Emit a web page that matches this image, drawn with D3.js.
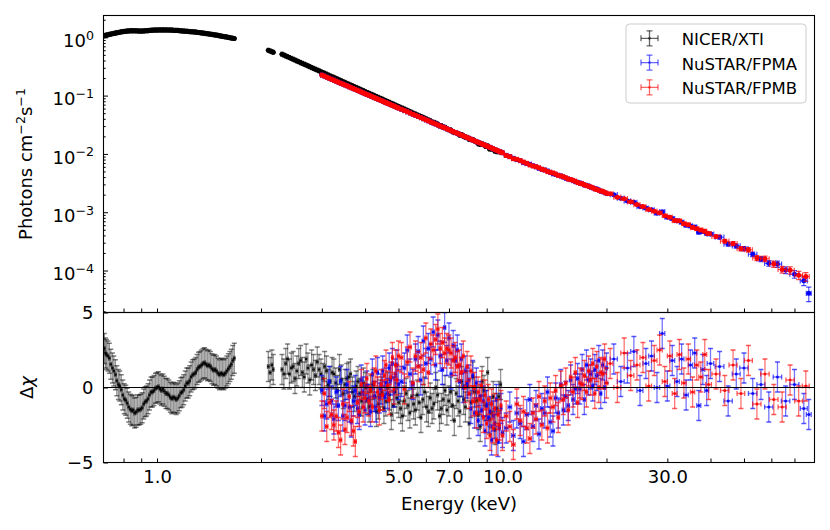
<!DOCTYPE html>
<html><head><meta charset="utf-8">
<script src="https://cdn.jsdelivr.net/npm/d3@7/dist/d3.min.js"></script>
<style>
html,body{margin:0;padding:0;background:#fff;}
text{font-family:"DejaVu Sans",sans-serif;fill:#000;}
</style></head><body>
<svg id="chart" width="830" height="530"></svg>
<script>
// ---------------- DATA ----------------
// NICER/XTI : energies (keV), flux (photons cm^-2 s^-1), relative flux error, residual (delta chi)
const nicerE = [0.704,0.709,0.714,0.721,0.728,0.735,0.743,0.750,0.758,0.765,0.773,0.780,0.788,0.796,0.804,0.812,0.820,0.828,0.837,0.845,0.853,0.861,0.870,0.879,0.888,0.897,0.906,0.915,0.924,0.933,0.942,0.951,0.961,0.970,0.980,0.990,1.000,1.010,1.020,1.030,1.040,1.050,1.061,1.071,1.082,1.093,1.104,1.115,1.126,1.137,1.149,1.160,1.172,1.183,1.195,1.207,1.219,1.231,1.243,1.255,1.268,1.281,1.294,1.306,1.319,1.332,1.346,1.359,1.373,1.386,1.400,1.414,1.428,1.442,1.457,1.471,1.486,1.501,1.516,1.531,1.546,1.561,1.577,1.593,1.609,1.625,1.641,1.657,1.674,
 2.100,2.125,2.150,2.170,
 2.300,2.329,2.358,2.387,2.417,2.447,2.477,2.508,2.540,2.571,2.603,2.635,2.668,2.701,2.734,2.768,2.803,2.838,2.873,2.909,2.945,2.982,3.019,3.056,3.094,3.132,3.171,3.211,3.251,3.291,3.332,3.373,3.415,3.457,3.500,3.544,3.588,3.633,3.678,3.724,3.770,3.817,3.864,3.912,3.960,4.010,4.060,4.110,4.161,4.213,4.265,4.318,4.372,4.426,4.481,4.537,4.593,4.650,4.708,4.767,4.826,4.886,4.946,5.008,5.070,5.133,5.196,5.261,5.327,5.393,5.460,5.528,5.596,5.666,5.736,5.807,5.879,5.953,6.027,6.102,6.177,6.254,6.331,6.410,6.490,6.571,6.652,6.735,6.819,6.904,6.989,7.076,7.164,7.253,7.342,7.434,7.526,7.620,7.715,7.811,7.908,8.006,8.105,8.206,8.308,8.411,8.515,8.621,8.728,8.837,8.947,9.058,9.170,9.284,9.400,9.517,9.635,9.755,9.875];
const nicerFlux = [1.06,1.075,1.09,1.105,1.12,1.135,1.15,1.165,1.18,1.195,1.21,1.225,1.24,1.25,1.26,1.27,1.28,1.285,1.29,1.29,1.29,1.29,1.29,1.285,1.28,1.28,1.28,1.285,1.29,1.295,1.30,1.31,1.32,1.325,1.33,1.33,1.33,1.335,1.34,1.34,1.34,1.34,1.34,1.335,1.33,1.33,1.33,1.32,1.31,1.31,1.31,1.30,1.29,1.285,1.28,1.275,1.27,1.26,1.25,1.245,1.24,1.235,1.23,1.22,1.21,1.20,1.19,1.18,1.17,1.16,1.15,1.14,1.13,1.12,1.11,1.10,1.09,1.075,1.06,1.05,1.04,1.03,1.02,1.008,0.996,0.985,0.973,0.963,0.953,
 0.600,0.583,0.566,0.552,
 0.513,0.496,0.480,0.465,0.450,0.435,0.421,0.407,0.394,0.381,0.369,0.357,0.346,0.335,0.324,0.313,0.303,0.293,0.284,0.275,
 0.266,0.257,0.249,0.241,0.233,0.225,0.218,0.211,0.205,0.198,0.191,0.185,0.179,0.173,0.168,0.162,0.157,0.152,0.147,0.142,
 0.138,0.1335,0.129,0.1248,0.121,0.117,0.113,0.1094,0.106,0.1026,0.0993,0.0961,0.0931,0.0901,0.0871,0.0843,0.0817,0.0791,0.0764,0.0739,
 0.0716,0.0693,0.0670,0.0648,0.0628,0.0608,0.0587,0.0568,0.0551,0.0533,0.0515,0.0498,0.0483,0.0467,0.0452,0.0437,0.0424,0.0410,0.0396,0.0383,
 0.0372,0.0350,0.0348,0.0337,0.0326,0.0303,0.0305,0.0290,0.0286,0.0269,0.0260,0.0258,0.0242,0.0232,0.0231,0.0222,0.0209,0.0215,0.0201,0.0194,
 0.0193,0.0178,0.0175,0.0176,0.0167,0.0161,0.0149,0.0145,0.0150,0.0143,0.0134,0.0137,0.0122,0.0122,0.0120,0.0111,0.0109,0.0109,0.0108];
const nicerRelErr = [0.005,0.005,0.005,0.005,0.005,0.005,0.005,0.005,0.005,0.005,0.005,0.005,0.005,0.005,0.005,0.005,0.005,0.005,0.005,0.005,0.005,0.005,0.005,0.005,0.005,0.005,0.005,0.005,0.005,0.005,0.005,0.005,0.005,0.005,0.005,0.005,0.005,0.005,0.005,0.005,0.005,0.005,0.005,0.005,0.005,0.005,0.005,0.005,0.005,0.005,0.005,0.005,0.005,0.005,0.005,0.005,0.005,0.005,0.005,0.005,0.005,0.005,0.005,0.005,0.005,0.005,0.005,0.005,0.005,0.005,0.005,0.005,0.005,0.005,0.005,0.005,0.005,0.005,0.005,0.005,0.005,0.005,0.005,0.005,0.005,0.005,0.005,0.005,0.005,
 0.01,0.01,0.01,0.01,
 0.006,0.006,0.006,0.006,0.006,0.006,0.006,0.006,0.006,0.006,0.006,0.006,0.006,0.006,0.006,0.006,0.006,0.006,0.006,0.006,0.006,0.006,0.006,0.006,0.006,0.006,0.006,0.006,0.006,0.006,0.006,0.006,0.006,0.006,0.006,0.006,0.006,0.006,0.006,0.006,
 0.01,0.01,0.01,0.01,0.01,0.01,0.01,0.01,0.01,0.01,0.01,0.01,0.01,0.01,0.01,0.01,0.01,0.01,0.01,0.01,0.01,0.01,0.01,0.01,0.01,0.01,0.01,0.01,0.01,0.01,0.01,0.01,0.01,0.01,0.01,0.01,0.01,0.01,0.01,0.01,
 0.02,0.02,0.02,0.02,0.02,0.02,0.02,0.02,0.02,0.02,0.02,0.02,0.02,0.02,0.02,0.02,0.02,0.02,0.02,0.02,0.02,0.02,0.02,0.02,0.02,0.02,0.02,0.02,0.02,0.02,0.02,0.02,0.02,0.02,0.02,0.02,0.02,0.02,0.02];
const nicerRes = [2.6,2.3,2.2,2.1,1.95,1.55,1.3,1.1,0.85,0.45,0.2,0.1,-0.15,-0.5,-0.75,-0.85,-1.05,-1.3,-1.45,-1.55,-1.5,-1.7,-1.65,-1.5,-1.5,-1.45,-1.35,-1.1,-0.95,-0.9,-0.75,-0.5,-0.3,-0.3,-0.2,-0.05,0.0,0.05,-0.1,-0.2,-0.1,-0.25,-0.4,-0.4,-0.5,-0.65,-0.75,-0.65,-0.7,-0.8,-0.7,-0.55,-0.35,-0.3,-0.15,0.1,0.3,0.3,0.45,0.7,0.85,0.9,1.0,1.2,1.35,1.4,1.5,1.6,1.65,1.55,1.45,1.5,1.4,1.25,1.15,1.2,1.1,0.95,0.85,0.95,0.9,0.85,0.95,1.1,1.25,1.4,1.55,1.8,1.95,
 1.4,1.0,1.5,1.2,
 1.2,0.9,1.6,1.9,0.9,1.3,1.4,0.6,1.1,1.6,1.8,1.0,0.7,1.9,1.3,0.5,1.5,1.2,0.8,1.7,
 1.2,0.9,0.6,1.4,1.1,0.2,0.4,1.0,0.9,0.3,-0.2,1.2,0.5,-0.4,0.2,0.6,0.7,0.9,-0.3,-0.6,
 0.1,0.4,-0.4,-0.9,0.3,0.0,-0.8,-1.3,-0.2,0.2,-0.6,-1.6,-1.1,-0.5,-0.3,-1.4,-0.9,0.0,-0.5,-1.8,
 -1.2,-0.3,-0.7,-1.0,-1.4,-1.9,-0.9,-0.4,-1.2,-1.7,-0.6,-1.1,-1.5,-0.5,-1.0,-2.0,-0.8,-0.3,-1.3,-1.6,
 -0.7,-1.4,-1.1,0.0,-0.5,-1.9,-1.4,-0.8,-0.2,-1.5,-0.9,-0.3,-1.2,-2.2,-0.4,-0.9,-1.6,0.4,-0.8,-1.3,
 0.1,-2.4,-1.0,0.7,-0.3,-0.9,-1.8,-2.6,0.4,-0.2,-1.2,1.0,-2.1,-1.7,-0.6,-2.8,-1.4,-0.6,0.2];

// NuSTAR common low-energy bins (3-20 keV)
const nuE = [3.00,3.05,3.10,3.15,3.20,3.25,3.30,3.35,3.40,3.45,3.50,3.55,3.60,3.65,3.70,3.75,3.80,3.85,3.90,3.95,4.00,4.05,4.10,4.15,4.20,4.25,4.30,4.35,4.40,4.45,4.50,4.55,4.60,4.65,4.70,4.75,4.80,4.85,4.90,4.95,5.00,
 5.1,5.2,5.3,5.4,5.5,5.6,5.7,5.8,5.9,6.0,6.1,6.2,6.3,6.4,6.5,6.6,6.7,6.8,6.9,7.0,7.1,7.2,7.3,7.4,7.5,7.6,7.7,7.8,7.9,8.0,8.1,8.2,8.3,8.4,8.5,8.6,8.7,8.8,8.9,9.0,9.1,9.2,9.3,9.4,9.5,9.6,9.7,9.8,9.9,10.0,
 10.25,10.5,10.75,11.0,11.25,11.5,11.75,12.0,12.25,12.5,12.75,13.0,13.25,13.5,13.75,14.0,14.25,14.5,14.75,15.0,15.25,15.5,15.75,16.0,16.25,16.5,16.75,17.0,17.25,17.5,17.75,18.0,18.25,18.5,18.75,19.0,19.25,19.5,19.75,20.0];
const nuFlux3to10 = [0.2254,0.2163,0.2070,0.1991,0.1914,0.1837,0.1767,0.1702,0.1637,0.1578,0.1521,0.1469,0.1416,0.1368,0.1321,0.1276,0.1233,0.1194,0.1153,0.1117,0.1081,0.1047,0.1016,0.0986,0.0955,0.0927,0.0900,0.0873,0.0849,0.0824,0.0802,0.0780,0.0757,0.0736,0.0718,0.0698,0.0679,0.0662,0.0646,0.0628,0.0612,
 0.0582,0.0554,0.0528,0.0504,0.0480,0.0459,0.0439,0.0420,0.0402,0.0385,0.0369,0.0354,0.0340,0.0327,0.0314,0.0302,0.0290,0.0280,0.0270,0.0260,0.0250,0.0242,0.0233,0.0226,0.0218,0.0211,0.0204,0.0197,0.0191,0.0185,0.0179,0.0174,0.0168,0.0163,0.0158,0.0154,0.0149,0.0145,0.0141,0.0137,0.0133,0.0129,0.0126,0.0123,0.0119,0.0116,0.0113,0.0110,0.0107,0.0105];
const fpmaFlux10to20 = [0.00947,0.00899,0.00839,0.00799,0.00767,0.00709,0.00684,0.00666,0.00627,0.00601,0.00565,0.00545,0.00532,0.00511,0.00482,0.00455,0.00447,0.00430,0.00420,0.00400,0.00383,0.00372,0.00362,0.00349,0.00333,0.00326,0.00318,0.00308,0.00293,0.00289,0.00281,0.00268,0.00262,0.00253,0.00249,0.00241,0.00229,0.00225,0.00217,0.00211];
const fpmbFlux10to20 = [0.00940,0.00898,0.00827,0.00810,0.00771,0.00723,0.00689,0.00647,0.00623,0.00604,0.00581,0.00546,0.00528,0.00498,0.00486,0.00471,0.00452,0.00428,0.00419,0.00405,0.00390,0.00370,0.00364,0.00352,0.00341,0.00323,0.00313,0.00309,0.00295,0.00286,0.00278,0.00272,0.00263,0.00251,0.00246,0.00238,0.00230,0.00228,0.00220,0.00212];
const nuRelErrLo = [0.008,0.008,0.008,0.008,0.008,0.008,0.008,0.008,0.008,0.008,0.008,0.008,0.008,0.008,0.008,0.008,0.008,0.008,0.008,0.008,0.008,0.008,0.008,0.008,0.008,0.008,0.008,0.008,0.008,0.008,0.008,0.008,0.008,0.008,0.008,0.008,0.008,0.008,0.008,0.008,0.008,
 0.01,0.01,0.01,0.01,0.01,0.01,0.01,0.01,0.01,0.01,0.01,0.01,0.01,0.01,0.01,0.01,0.01,0.01,0.01,0.01,0.01,0.01,0.01,0.01,0.01,0.01,0.01,0.01,0.01,0.01,0.01,0.01,0.01,0.01,0.01,0.01,0.01,0.01,0.01,0.01,0.01,0.01,0.01,0.01,0.01,0.01,0.01,0.01,0.01,0.01,
 0.02,0.02,0.02,0.02,0.02,0.02,0.02,0.02,0.02,0.02,0.02,0.02,0.02,0.02,0.02,0.02,0.02,0.02,0.02,0.02,0.02,0.02,0.02,0.02,0.02,0.02,0.02,0.02,0.02,0.02,0.02,0.02,0.02,0.02,0.02,0.02,0.02,0.02,0.02,0.02];
// NuSTAR high-energy bins (>20 keV)
const fpmaEHi = [21,22,23,24,25,26,27,28,29,30,31,32,33,34,35,36,37,38,39,40,42.5,45,47.5,50,53,56,59,62.5,66,70,74.5,77];
const fpmaFluxHi = [0.00200,0.00174,0.00156,0.00148,0.00125,0.00118,0.00110,0.000961,0.00102,0.000820,0.000780,0.000714,0.000675,0.000597,0.000581,0.000560,0.000454,0.000469,0.000435,0.000421,0.000373,0.000284,0.000264,0.000238,0.000190,0.000158,0.000133,0.000129,0.000102,0.0000866,0.0000666,0.0000406];
const fpmaRelErrHi = [0.035,0.035,0.035,0.04,0.04,0.04,0.04,0.045,0.045,0.045,0.05,0.05,0.05,0.05,0.055,0.055,0.055,0.06,0.06,0.06,0.07,0.075,0.08,0.085,0.09,0.10,0.11,0.12,0.13,0.15,0.17,0.28];
const fpmbEHi = [20.5,21.5,22.5,23.5,24.5,25.5,26.5,27.5,28.5,29.5,30.5,31.5,32.5,33.5,34.5,35.5,36.5,37.5,38.5,39.5,41.5,44,46.5,49,51.5,54.5,57.5,61,64.5,68,72,75.5];
const fpmbFluxHi = [0.00208,0.00181,0.00171,0.00151,0.00135,0.00125,0.00111,0.00104,0.000980,0.000869,0.000822,0.000720,0.000711,0.000636,0.000611,0.000546,0.000521,0.000496,0.000472,0.000431,0.000384,0.000319,0.000290,0.000237,0.000227,0.000164,0.000159,0.000129,0.000104,0.000101,0.0000831,0.0000789];
const fpmbRelErrHi = [0.035,0.035,0.035,0.04,0.04,0.04,0.04,0.045,0.045,0.045,0.05,0.05,0.05,0.05,0.055,0.055,0.055,0.06,0.06,0.06,0.065,0.07,0.08,0.085,0.09,0.10,0.11,0.12,0.13,0.145,0.16,0.17];
// residuals (delta chi): low bins (nuE) then high bins
const fpmaRes = [-0.2,-1.9,-1.1,0.4,-0.9,-2.1,-0.3,-1.2,0.4,-1.9,-1.2,0.2,-1.3,-2.3,-0.9,-0.2,-1.4,-1.8,0.5,-0.3,-1.5,0.1,-0.8,-1.6,0.9,-0.6,-1.3,1.0,-0.7,-0.1,1.1,-0.6,0.3,-0.4,1.3,0.5,1.6,-0.3,0.9,1.5,0.2,
 0.4,1.3,2.5,0.9,0.2,1.9,2.4,0.5,3.1,1.6,2.6,1.9,3.7,1.5,3.5,2.1,1.2,4.0,1.8,3.3,0.9,2.8,1.8,2.5,0.4,1.9,0.0,1.1,0.3,0.5,-1.4,0.8,-1.7,0.3,-2.2,-0.6,-1.5,-0.9,-2.9,-1.2,-2.0,-1.6,-3.5,-1.9,-2.4,-0.8,-3.6,-2.7,-1.4,-3.0,
 -2.7,-1.3,-3.2,-1.7,-2.4,-3.6,-1.8,-0.8,-2.6,-1.2,-3.1,-1.4,-1.7,-0.3,-2.3,-2.9,-0.7,-1.7,0.2,-1.5,-0.6,-1.2,0.5,-0.8,-0.1,0.6,-0.1,1.2,-0.8,1.5,0.5,0.9,0.1,1.2,0.8,1.8,-0.4,1.5,0.0,1.3,
 1.9,0.4,1.3,2.4,-0.2,1.6,2.1,0.0,3.6,0.1,1.8,0.4,1.9,-0.5,1.5,2.3,-1.2,1.2,-0.2,1.6,
 1.4,-0.9,0.9,1.3,-0.4,0.2,-1.3,0.7,-0.9,0.2,-1.4,-1.8];
const fpmbRes = [-1.9,-0.4,-2.6,-1.0,-1.8,-2.5,-1.9,-3.0,-3.5,-1.1,-2.8,-2.0,-0.6,-2.2,-2.9,-3.6,-1.0,-1.6,0.2,-1.3,-0.7,0.6,-0.9,-0.1,-1.3,0.3,1.1,-0.3,-1.5,0.2,-0.5,0.8,1.5,0.1,-0.8,0.7,2.0,-0.1,1.5,0.5,2.1,
 2.0,-0.1,1.7,2.7,0.3,2.1,1.4,2.0,1.2,3.3,1.0,2.9,2.5,3.2,3.9,2.6,3.0,2.3,2.6,2.5,2.3,1.8,2.0,1.4,1.5,1.0,2.1,0.0,1.4,-0.4,1.1,-0.9,0.0,-1.7,-0.3,-0.8,0.1,-2.0,-0.5,-2.4,-0.8,-3.2,-1.1,-2.7,-1.4,-3.5,-1.8,-2.5,-1.2,-3.2,
 -1.9,-2.6,-3.8,-1.1,-2.2,-1.6,-2.7,-3.4,-1.7,-2.1,-0.6,-2.5,-0.9,-2.7,-0.7,-1.3,-0.2,-2.0,0.1,-0.8,0.3,-1.5,0.7,-0.3,1.0,-1.0,0.3,0.2,0.8,-0.3,1.1,0.5,1.6,-0.4,1.4,0.0,1.0,0.9,1.9,0.3,
 1.6,0.0,2.3,0.8,1.5,2.0,0.1,1.8,2.5,0.4,2.1,-0.4,2.2,0.3,1.9,-0.3,1.5,0.7,2.2,0.2,
 0.9,-0.2,1.5,-0.4,1.8,-1.1,0.9,-0.8,-1.3,0.5,-0.9,0.1];

// axis tick values / labels
const xTickValues = [0.8,0.9,1,2,3,4,5,6,7,8,9,10,20,30,40,50,60,70];
const xTickLabels = ['','','1.0','','','','5.0','','7.0','','','10.0','','30.0','','','',''];
const resTickValues = [-5,0,5];
const resTickLabels = ['\u22125','0','5'];
const seriesNames = ['NICER/XTI','NuSTAR/FPMA','NuSTAR/FPMB'];
const seriesColors = ['#000000','#0000ff','#ff0000'];

// ---------------- BUILD ----------------
const fpmaE = nuE.concat(fpmaEHi), fpmbE = nuE.concat(fpmbEHi);
const fpmaFlux = nuFlux3to10.concat(fpmaFlux10to20, fpmaFluxHi);
const fpmbFlux = nuFlux3to10.concat(fpmbFlux10to20, fpmbFluxHi);
const fpmaRel = nuRelErrLo.concat(fpmaRelErrHi), fpmbRel = nuRelErrLo.concat(fpmbRelErrHi);

const X0=103.5, X1=814.5, YT=15.5, YM=312.5, YBt=462.5;
const x = d3.scaleLog().domain([0.7,80]).range([X0,X1]);
const yTop = d3.scaleLog().domain([1.905e-5,2.366]).range([YM,YT]);
const yRes = d3.scaleLinear().domain([-5,5]).range([YBt,YM]);

const svg = d3.select('#chart');
svg.append('rect').attr('width',830).attr('height',530).attr('fill','#fff');
const defs = svg.append('defs');
defs.append('clipPath').attr('id','cT').append('rect').attr('x',X0).attr('y',YT).attr('width',X1-X0).attr('height',YM-YT);
defs.append('clipPath').attr('id','cR').append('rect').attr('x',X0).attr('y',YM).attr('width',X1-X0).attr('height',YBt-YM);
const gTop = svg.append('g').attr('clip-path','url(#cT)');
const gRes = svg.append('g').attr('clip-path','url(#cR)');

function halfWidths(E){
  return E.map((e,i)=>{
    let l = i>0 ? e-E[i-1] : null, r = i<E.length-1 ? E[i+1]-e : null;
    if(l===null) l=r; if(r===null) r=l;
    if(l>3*r) l=r; if(r>3*l) r=l;
    return (l+r)/4;
  });
}

function plotErr(g, E, V, lo, hi, ys, col, st){
  const hw = halfWidths(E);
  const pts = E.map((e,i)=>({cx:x(e), cy:ys(V[i]), y1:ys(lo[i]), y2:ys(hi[i]), xa:x(e-hw[i]), xb:x(e+hw[i])}));
  const gs = g.append('g').attr('fill','none').attr('stroke',col).attr('stroke-width',st.lw);
  gs.selectAll('path.bar').data(pts).join('path').attr('class','bar').attr('stroke-opacity',st.barOp)
    .attr('d',p=>`M${p.xa},${p.cy}H${p.xb}M${p.cx},${p.y1}V${p.y2}`);
  const c = st.cap;
  gs.selectAll('path.cap').data(pts).join('path').attr('class','cap').attr('stroke-opacity',st.capOp)
    .attr('d',p=>`M${p.cx-c},${p.y1}H${p.cx+c}M${p.cx-c},${p.y2}H${p.cx+c}M${p.xa},${p.cy-c}V${p.cy+c}M${p.xb},${p.cy-c}V${p.cy+c}`);
  g.append('g').attr('fill',col).selectAll('circle').data(pts).join('circle')
    .attr('cx',p=>p.cx).attr('cy',p=>p.cy).attr('r',st.mr).attr('fill-opacity',st.mOp);
}

const topStyle = {lw:1.2, barOp:0.65, cap:2.6, capOp:0.7, mr:2.5, mOp:1};
const resStyles = [
  {lw:1.3, barOp:0.42, cap:2.5, capOp:0.5, mr:1.3, mOp:0.85},
  {lw:1.3, barOp:0.55, cap:2.5, capOp:0.65, mr:1.5, mOp:0.9},
  {lw:1.3, barOp:0.55, cap:2.5, capOp:0.65, mr:1.5, mOp:0.9}
];

const series = [
  {E:nicerE, F:nicerFlux, R:nicerRelErr, res:nicerRes, col:seriesColors[0]},
  {E:fpmaE, F:fpmaFlux, R:fpmaRel, res:fpmaRes, col:seriesColors[1]},
  {E:fpmbE, F:fpmbFlux, R:fpmbRel, res:fpmbRes, col:seriesColors[2]}
];

series.forEach(s=>{
  plotErr(gTop, s.E, s.F, s.F.map((f,i)=>f*(1-s.R[i])), s.F.map((f,i)=>f*(1+s.R[i])), yTop, s.col, topStyle);
});
series.forEach((s,k)=>{
  plotErr(gRes, s.E, s.res, s.res.map(r=>r-1), s.res.map(r=>r+1), yRes, s.col, resStyles[k]);
});
svg.append('line').attr('x1',X0).attr('x2',X1).attr('y1',yRes(0)).attr('y2',yRes(0)).attr('stroke','#000').attr('stroke-width',1);

// ---------------- AXES ----------------
function styleAxis(g){ g.select('.domain').remove(); g.selectAll('.tick line').attr('stroke','#000').attr('stroke-width',1); g.selectAll('text').attr('font-family','"DejaVu Sans",sans-serif').attr('fill','#000'); }

svg.append('g').attr('transform',`translate(0,${YM})`)
  .call(d3.axisBottom(x).tickValues(xTickValues).tickSize(-4).tickFormat(()=>''))
  .call(styleAxis);
svg.append('g').attr('transform',`translate(0,${YBt})`)
  .call(d3.axisBottom(x).tickValues(xTickValues).tickSize(-4).tickPadding(8.2).tickFormat((d,i)=>xTickLabels[i]))
  .call(styleAxis)
  .call(g=>g.selectAll('text').attr('font-size',18));

const allYT = yTop.ticks(50).filter(v=>v>=yTop.domain()[0] && v<=yTop.domain()[1]);
const isMajor = v => Math.abs(Math.log10(v)-Math.round(Math.log10(v)))<1e-6;
const majors = allYT.filter(isMajor), minors = allYT.filter(v=>!isMajor(v));
svg.append('g').attr('transform',`translate(${X0},0)`)
  .call(d3.axisLeft(yTop).tickValues(minors).tickSize(-2.2).tickFormat(()=>''))
  .call(styleAxis);
const yAx = svg.append('g').attr('transform',`translate(${X0},0)`)
  .call(d3.axisLeft(yTop).tickValues(majors).tickSize(-4.5).tickPadding(9.5).tickFormat(()=>''))
  .call(styleAxis);
yAx.selectAll('.tick text').each(function(d){
  const t = d3.select(this).attr('font-size',18).attr('dy',null).attr('y',9.3);
  const ex = Math.round(Math.log10(d));
  t.text(null);
  t.append('tspan').text('10');
  t.append('tspan').attr('font-size',12.6).attr('dy',-7.5).text(ex<0 ? '\u2212'+(-ex) : String(ex));
});

svg.append('g').attr('transform',`translate(${X0},0)`)
  .call(d3.axisLeft(yRes).tickValues(resTickValues).tickSize(-4.5).tickPadding(10).tickFormat((d,i)=>resTickLabels[i]))
  .call(styleAxis)
  .call(g=>g.selectAll('text').attr('font-size',18).attr('dy','0.36em'));

svg.append('rect').attr('x',X0).attr('y',YT).attr('width',X1-X0).attr('height',YM-YT).attr('fill','none').attr('stroke','#000').attr('stroke-width',1.1);
svg.append('rect').attr('x',X0).attr('y',YM).attr('width',X1-X0).attr('height',YBt-YM).attr('fill','none').attr('stroke','#000').attr('stroke-width',1.1);

svg.append('text').attr('x',459).attr('y',510).attr('text-anchor','middle').attr('font-size',18).text('Energy (keV)');
const yl = svg.append('text').attr('transform','translate(32,164) rotate(-90)').attr('text-anchor','middle').attr('font-size',18);
yl.append('tspan').text('Photons cm');
yl.append('tspan').attr('font-size',12.6).attr('dy',-7.5).text('\u22122');
yl.append('tspan').attr('dy',7.5).text('s');
yl.append('tspan').attr('font-size',12.6).attr('dy',-7.5).text('\u22121');
const dl = svg.append('text').attr('transform','translate(33,387.5) rotate(-90)').attr('text-anchor','middle').attr('font-size',18);
dl.append('tspan').text('\u0394');
dl.append('tspan').attr('font-style','italic').text('\u03c7');

const lg = svg.append('g');
lg.append('rect').attr('x',626).attr('y',24).attr('width',180).attr('height',79).attr('rx',3.5)
  .attr('fill','#fff').attr('fill-opacity',0.8).attr('stroke','#cccccc').attr('stroke-width',1);
const rowsY = [38.3,62.6,87.3];
seriesNames.forEach((n,i)=>{
  const cx=649.5, cy=rowsY[i], c=seriesColors[i];
  const h = lg.append('g').attr('stroke',c).attr('stroke-opacity',0.6).attr('stroke-width',1.3).attr('fill','none');
  h.append('path').attr('d',`M${cx-8.5},${cy}H${cx+8.5}M${cx},${cy-7.5}V${cy+7.5}`);
  h.append('path').attr('d',`M${cx-3},${cy-7.5}H${cx+3}M${cx-3},${cy+7.5}H${cx+3}M${cx-8.5},${cy-3}V${cy+3}M${cx+8.5},${cy-3}V${cy+3}`);
  lg.append('circle').attr('cx',cx).attr('cy',cy).attr('r',1.4).attr('fill',c).attr('fill-opacity',0.6);
  lg.append('text').attr('x',681.7).attr('y',cy+7).attr('font-size',16.5).text(n);
});
</script></body></html>
